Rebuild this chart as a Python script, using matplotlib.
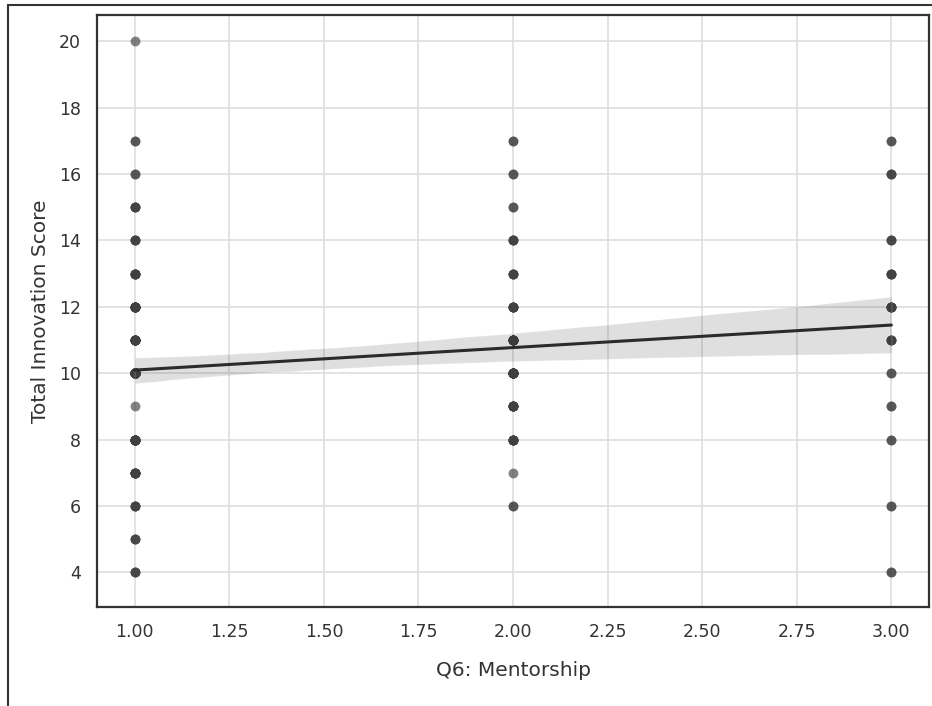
import matplotlib
matplotlib.use("Agg")
import matplotlib.pyplot as plt
import seaborn as sns
import numpy as np
import pandas as pd
from matplotlib.patches import Rectangle

# counts of respondents per (mentorship level, score)
scores_1 = [4, 5, 6, 7, 8, 9, 10, 11, 12, 13, 14, 15, 16, 17, 20]
counts_1 = [3, 3, 4, 8, 20, 1, 70, 14, 12, 6, 4, 4, 2, 2, 1]

scores_2 = [6, 7, 8, 9, 10, 11, 12, 13, 14, 15, 16, 17]
counts_2 = [2, 1, 7, 8, 20, 12, 6, 4, 4, 2, 2, 2]

scores_3 = [4, 6, 8, 9, 10, 11, 12, 13, 14, 16, 17]
counts_3 = [2, 2, 2, 2, 2, 4, 6, 4, 3, 3, 2]

x_ticks = [1.00, 1.25, 1.50, 1.75, 2.00, 2.25, 2.50, 2.75, 3.00]
y_ticks = [4, 6, 8, 10, 12, 14, 16, 18, 20]

xs = np.concatenate([np.repeat(1, sum(counts_1)),
                     np.repeat(2, sum(counts_2)),
                     np.repeat(3, sum(counts_3))])
ys = np.concatenate([np.repeat(scores_1, counts_1),
                     np.repeat(scores_2, counts_2),
                     np.repeat(scores_3, counts_3)])
df = pd.DataFrame({"Q6: Mentorship": xs, "Total Innovation Score": ys})

sns.set_style("whitegrid", {"grid.color": "#dedede", "axes.edgecolor": "#333333"})
plt.rcParams["font.family"] = ["DejaVu Sans"]

fig = plt.figure(figsize=(9.32, 7.06), dpi=100)
ax = fig.add_axes([0.104, 0.140, 0.893, 0.839])

sns.regplot(data=df, x="Q6: Mentorship", y="Total Innovation Score", ax=ax,
            color="#404040", seed=0,
            scatter_kws={"s": 50, "alpha": 0.65, "linewidths": 0},
            line_kws={"color": "#2b2b2b", "linewidth": 2.2})

ax.set_xlim(0.9, 3.1)
ax.set_ylim(2.95, 20.8)
ax.set_xticks(x_ticks)
ax.set_xticklabels([f"{t:.2f}" for t in x_ticks])
ax.set_yticks(y_ticks)
ax.tick_params(labelsize=12.5, colors="#333333", pad=8)
ax.grid(True, linewidth=1.2)
for s in ax.spines.values():
    s.set_linewidth(1.6)
    s.set_color("#333333")
ax.set_xlabel("Q6: Mentorship", fontsize=14.5, color="#333333", labelpad=14)
ax.set_ylabel("Total Innovation Score", fontsize=14.5, color="#333333", labelpad=6)

# outer frame of the original screenshot (only left and top edges visible)
fig.add_artist(Rectangle((8 / 932, -0.1), 1.2, 0.1 + 701 / 706, transform=fig.transFigure,
                         fill=False, edgecolor="#333333", linewidth=1.5, clip_on=False))

fig.savefig("out.png", dpi=100)
